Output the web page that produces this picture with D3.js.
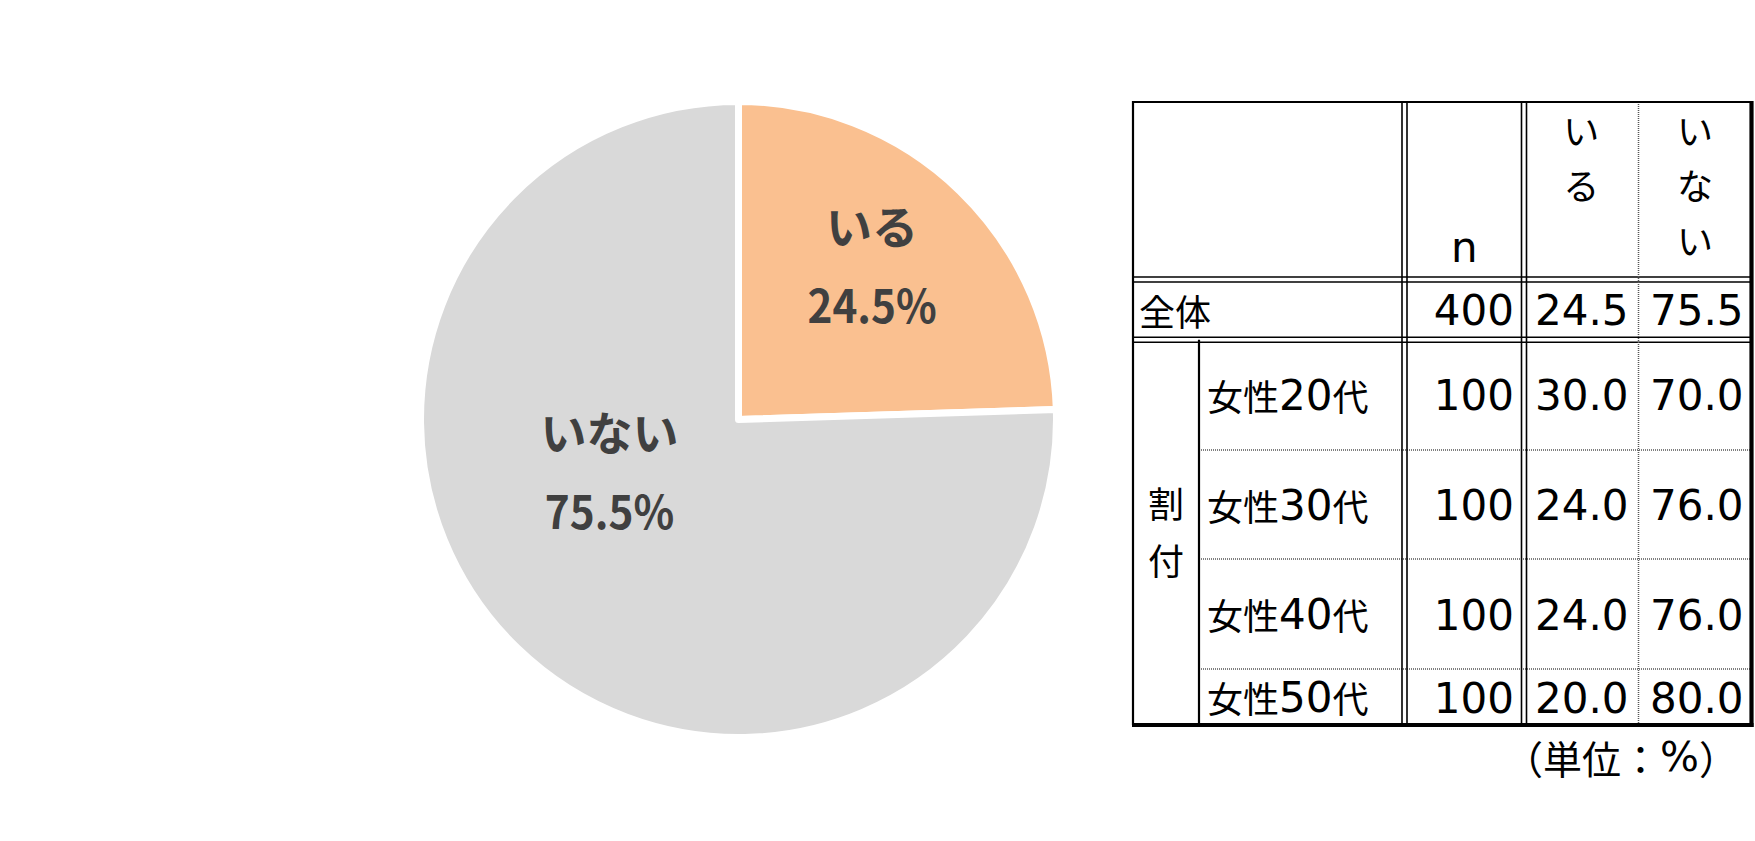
<!DOCTYPE html>
<html lang="ja">
<head>
  <meta charset="UTF-8">
  <title>いる / いない</title>
  <style>
  body { margin: 0; background: #fff; }
  svg { display: block; }
  .slice { stroke: #fff; stroke-width: 7px; stroke-linejoin: round; }
  .pie-label { font-family: "Noto Sans CJK JP", sans-serif; font-weight: bold; fill: #404040; }
  .pie-kana { font-size: 46px; }
  .pie-pct { font-size: 46px; }
  .cell { font-size: 42px; fill: #000; }
  .latin { font-family: "DejaVu Sans", sans-serif; font-size: 42px; }
  .cjk { font-family: "Noto Sans CJK JP", sans-serif; font-size: 36px; }
  .note .cjk { font-size: 39px; }
  .note .latin { font-size: 41px; }
  .line { stroke: #000; fill: none; }
  .dotted { stroke: #555; stroke-width: 1.5px; stroke-dasharray: 1 1; fill: none; }
  </style>
</head>
<body>
  <svg></svg>
  <script src="https://d3js.org/d3.v7.min.js"></script>
  <script>

  // pie data
  var pieLabels = ['いる', 'いない'];
  var pieValues = [24.5, 75.5];
  var pieColors = ['#FAC090', '#D9D9D9'];

  // table data
  var rowLabels = ['全体', '女性20代', '女性30代', '女性40代', '女性50代'];
  var nValues = [400, 100, 100, 100, 100];
  var iruValues = [24.5, 30.0, 24.0, 24.0, 20.0];
  var inaiValues = [75.5, 70.0, 76.0, 76.0, 80.0];
  var headerLabels = ['n', 'いる', 'いない'];
  var groupLabel = '割付';
  var unitNote = '（単位：%）';

  var width = 1755, height = 841;

  var svg = d3.select('svg').attr('width', width).attr('height', height);

  // ---------- pie ----------
  var cx = 738.5, cy = 419.5, R = 318;

  var pie = d3.pie().sort(null).value(function (d) { return d; });
  var arc = d3.arc().innerRadius(0).outerRadius(R);
  var arcs = pie(pieValues);

  var gPie = svg.append('g').attr('transform', 'translate(' + cx + ',' + cy + ')');

  gPie.selectAll('path')
    .data(arcs)
    .enter()
    .append('path')
    .attr('class', 'slice')
    .attr('d', arc)
    .attr('fill', function (d, i) { return pieColors[i]; });

  // label placement (excel "best fit"): radius factor + angle in degrees
  var labelLayout = [{ k: 0.645, angle: 40.65 }, { k: 0.435, angle: 248.8 }];

  var labels = gPie.selectAll('g.lbl')
    .data(arcs)
    .enter()
    .append('g')
    .attr('class', 'lbl')
    .attr('transform', function (d, i) {
      var lay = labelLayout[i];
      var a = lay.angle != null ? lay.angle * Math.PI / 180 : (d.startAngle + d.endAngle) / 2;
      var r = R * lay.k;
      return 'translate(' + (Math.sin(a) * r) + ',' + (-Math.cos(a) * r) + ')';
    });

  labels.append('text')
    .attr('class', 'pie-label pie-kana')
    .attr('text-anchor', 'middle')
    .attr('dominant-baseline', 'central')
    .attr('y', -39.5)
    .text(function (d, i) { return pieLabels[i]; });

  // percentages are set in a slightly narrow face in the original
  labels.append('text')
    .attr('class', 'pie-label pie-pct')
    .attr('text-anchor', 'middle')
    .attr('dominant-baseline', 'central')
    .attr('transform', 'translate(0,39.5) scale(0.92,1)')
    .text(function (d, i) { return d3.format('.1f')(pieValues[i]) + '%'; });

  // ---------- table ----------
  var colEdges = [1133, 1199, 1404.5, 1524, 1638.5, 1751.5];
  var rowEdges = [102, 279.5, 339.8, 450, 559, 669, 725];

  var rowKeys = ['header'].concat(rowLabels);
  var rowTop = d3.scaleOrdinal().domain(rowKeys).range(rowEdges.slice(0, -1));
  var rowBottom = d3.scaleOrdinal().domain(rowKeys).range(rowEdges.slice(1));
  var rowMid = function (k) { return (rowTop(k) + rowBottom(k)) / 2; };

  var colKeys = ['group', 'label', 'n', 'iru', 'inai'];
  var colLeft = d3.scaleOrdinal().domain(colKeys).range(colEdges.slice(0, -1));
  var colRight = d3.scaleOrdinal().domain(colKeys).range(colEdges.slice(1));
  var colMid = function (k) { return (colLeft(k) + colRight(k)) / 2; };

  var gT = svg.append('g');

  function hline(y, x1, x2, w) {
    gT.append('line').attr('class', 'line').attr('x1', x1).attr('x2', x2)
      .attr('y1', y).attr('y2', y).attr('stroke-width', w);
  }
  function vline(x, y1, y2, w) {
    gT.append('line').attr('class', 'line').attr('x1', x).attr('x2', x)
      .attr('y1', y1).attr('y2', y2).attr('stroke-width', w);
  }
  function doubleH(y, x1, x2) { hline(y - 2.5, x1, x2, 1.6); hline(y + 2.5, x1, x2, 1.6); }
  function doubleV(x, y1, y2) { vline(x - 2.5, y1, y2, 1.6); vline(x + 2.5, y1, y2, 1.6); }

  var L = colEdges[0], Rt = colEdges[colEdges.length - 1];
  var T = rowEdges[0], B = rowEdges[rowEdges.length - 1];

  // inner lines
  doubleH(rowBottom('header'), L, Rt);
  doubleH(rowBottom(rowLabels[0]), L, Rt);
  rowLabels.slice(1, -1).forEach(function (k) {
    gT.append('line').attr('class', 'dotted')
      .attr('x1', colLeft('label')).attr('x2', Rt)
      .attr('y1', rowBottom(k)).attr('y2', rowBottom(k));
  });
  vline(colLeft('label'), rowTop(rowLabels[1]), B, 2.2);
  doubleV(colLeft('n'), T, B);
  doubleV(colLeft('iru'), T, B);
  gT.append('line').attr('class', 'dotted')
    .attr('x1', colLeft('inai')).attr('x2', colLeft('inai'))
    .attr('y1', T).attr('y2', B);

  // outer border
  hline(T, L - 1, Rt, 2.2);
  vline(L, T - 1, B, 2.2);
  vline(Rt, T - 1, B + 2, 4.2);
  hline(B, L - 1, Rt + 2, 4.2);

  // text helper: split latin / cjk runs into tspans
  function richText(sel, str) {
    var runs = str.match(/[\u3000-\u9fff\uff00-\uffef]+|[^\u3000-\u9fff\uff00-\uffef]+/g);
    runs.forEach(function (r) {
      var cjk = /[\u3000-\u9fff\uff00-\uffef]/.test(r);
      sel.append('tspan').attr('class', cjk ? 'cjk' : 'latin').text(r);
    });
  }

  // header: n bottom-centred, kana stacked vertically
  gT.append('text').attr('class', 'cell latin')
    .attr('x', colMid('n')).attr('y', 261.5)
    .attr('text-anchor', 'middle')
    .text(headerLabels[0]);

  [['iru', headerLabels[1]], ['inai', headerLabels[2]]].forEach(function (h) {
    h[1].split('').forEach(function (ch, j) {
      gT.append('text').attr('class', 'cell cjk')
        .attr('x', colMid(h[0]))
        .attr('y', rowTop('header') + 27 + j * 55)
        .attr('text-anchor', 'middle')
        .attr('dominant-baseline', 'central')
        .text(ch);
    });
  });

  // group label 割付 stacked
  var gMid = (rowTop(rowLabels[1]) + B) / 2;
  groupLabel.split('').forEach(function (ch, j, arr) {
    gT.append('text').attr('class', 'cell cjk')
      .attr('x', colMid('group'))
      .attr('y', gMid - 2 + (j - (arr.length - 1) / 2) * 57)
      .attr('text-anchor', 'middle')
      .attr('dominant-baseline', 'central')
      .text(ch);
  });

  // row labels
  rowLabels.forEach(function (k, i) {
    var t = gT.append('text').attr('class', 'cell')
      .attr('x', i === 0 ? L + 6 : colLeft('label') + 8)
      .attr('y', rowMid(k))
      .attr('dominant-baseline', 'central');
    richText(t, k);
  });

  // numbers
  var fmt = d3.format('.1f');
  var numCols = [['n', nValues, String], ['iru', iruValues, fmt], ['inai', inaiValues, fmt]];
  numCols.forEach(function (c) {
    gT.selectAll(null)
      .data(c[1])
      .enter()
      .append('text')
      .attr('class', 'cell latin')
      .attr('x', colRight(c[0]) - (c[0] === 'inai' ? 8 : 10))
      .attr('y', function (d, i) { return rowMid(rowLabels[i]) + 15.5; })
      .attr('text-anchor', 'end')
      .text(function (d) { return c[2](d); });
  });

  // unit note
  var note = svg.append('text').attr('class', 'note')
    .attr('x', 1738).attr('y', 757)
    .attr('text-anchor', 'end')
    .attr('dominant-baseline', 'central');
  richText(note, unitNote);

  </script>
</body>
</html>
